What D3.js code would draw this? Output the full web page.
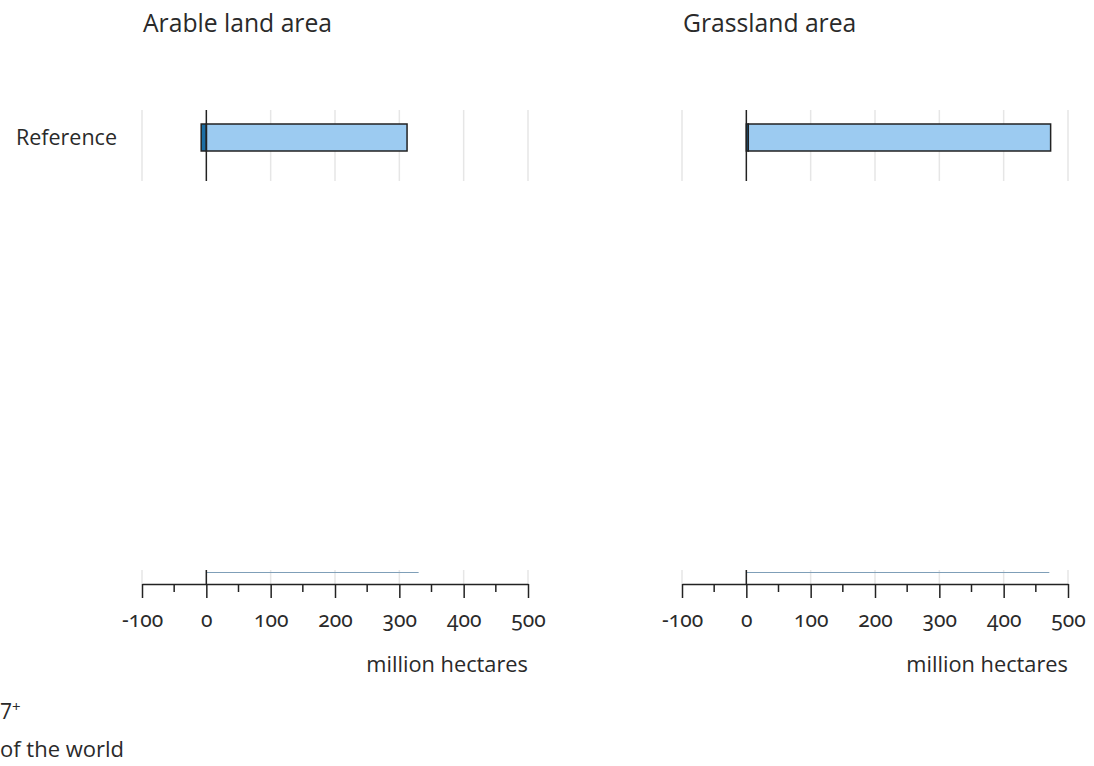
<!DOCTYPE html>
<html><head><meta charset="utf-8">
<script src="https://cdn.jsdelivr.net/npm/d3@7"></script>
<style>
body{margin:0;background:#fff;}
svg text{font-family:"Open Sans","Noto Sans",sans-serif;fill:#2a2a2a;}
.tick text{font-family:"Noto Sans",sans-serif;font-variant-numeric:oldstyle-nums;}
</style></head>
<body><svg id="c" width="1094" height="766"></svg>
<script>
const panels = ["Arable land area", "Grassland area"];
const rows = ["Reference"];
const changeValues = [[-8], [3]];      // dark segment
const areaValues = [[312], [470]];     // light segment
const hiddenRowValues = [330, 471];    // top edge of clipped lower row
const tickValues = [-100, 0, 100, 200, 300, 400, 500];
const minorTicks = [-50, 50, 150, 250, 350, 450];
const axisTitle = "million hectares";
const legendLines = ["7", "of the world"];

const svg = d3.select("#c");
const ranges = [[142, 528], [682, 1068]];
const y = d3.scaleBand().domain(rows).range([110, 181]).paddingInner(0).paddingOuter(0);
const axisY = 584;

svg.append("text").attr("x", 117).attr("y", 145).attr("text-anchor", "end")
  .style("font-size", "21.5px").text(rows[0]);

panels.forEach((title, p) => {
  const x = d3.scaleLinear().domain([-100, 500]).range(ranges[p]);
  const g = svg.append("g");
  g.append("text").attr("x", ranges[p][0] + 1).attr("y", 32).style("font-size", "24.7px").text(title);

  g.selectAll(".grid").data(tickValues.filter(d => d !== 0)).join("line")
    .attr("x1", d => x(d)).attr("x2", d => x(d)).attr("y1", 110).attr("y2", 181)
    .attr("stroke", "#e6e6e6").attr("stroke-width", 1.5);
  g.selectAll(".grid2").data(tickValues).join("line")
    .attr("x1", d => x(d)).attr("x2", d => x(d)).attr("y1", 570).attr("y2", axisY)
    .attr("stroke", "#e6e6e6").attr("stroke-width", 1.5);

  g.append("line").attr("x1", x(0)).attr("x2", x(hiddenRowValues[p]))
    .attr("y1", 572.5).attr("y2", 572.5).attr("stroke", "#7f9fb8").attr("stroke-width", 1);

  rows.forEach((r, i) => {
    const c = changeValues[p][i], a = areaValues[p][i];
    const yb = y(r) + 14, h = 27;
    const a0 = Math.max(0, c);
    g.append("rect").attr("x", x(a0)).attr("y", yb).attr("width", x(a0 + a) - x(a0)).attr("height", h)
      .attr("fill", "#9ccbf1").attr("stroke", "#222").attr("stroke-width", 1.5);
    g.append("rect").attr("x", x(Math.min(0, c))).attr("y", yb).attr("width", Math.abs(x(c) - x(0))).attr("height", h)
      .attr("fill", "#1c6ea4").attr("stroke", "#222").attr("stroke-width", 1.5);
  });

  g.append("line").attr("x1", x(0)).attr("x2", x(0)).attr("y1", 110).attr("y2", 181)
    .attr("stroke", "#222").attr("stroke-width", 1.5);
  g.append("line").attr("x1", x(0)).attr("x2", x(0)).attr("y1", 570).attr("y2", axisY)
    .attr("stroke", "#222").attr("stroke-width", 1.5);

  const ax = g.append("g").attr("transform", `translate(0,${axisY})`)
    .call(d3.axisBottom(x).tickValues(tickValues).tickSize(14).tickSizeOuter(0).tickPadding(14)
      .tickFormat(d => d < 0 ? "-" + Math.abs(d) : d));
  ax.select(".domain").attr("stroke", "#222").attr("stroke-width", 1.5);
  ax.selectAll(".tick line").attr("stroke", "#222").attr("stroke-width", 1.5);
  ax.selectAll(".tick text").style("font-size", "21px").attr("fill", "#2a2a2a");
  g.selectAll(".minor").data(minorTicks).join("line")
    .attr("x1", d => x(d)).attr("x2", d => x(d)).attr("y1", axisY).attr("y2", axisY + 8)
    .attr("stroke", "#222").attr("stroke-width", 1.5);

  g.append("text").attr("x", ranges[p][1]).attr("y", 672).attr("text-anchor", "end")
    .style("font-size", "21.8px").text(axisTitle);
});

const l1 = svg.append("text").attr("x", 0).attr("y", 719).style("font-size", "21px");
l1.append("tspan").text(legendLines[0]);
l1.append("tspan").attr("dy", -7).style("font-size", "15px").text("+");
svg.append("text").attr("x", 0).attr("y", 757).style("font-size", "22px").text(legendLines[1]);
</script></body></html>
